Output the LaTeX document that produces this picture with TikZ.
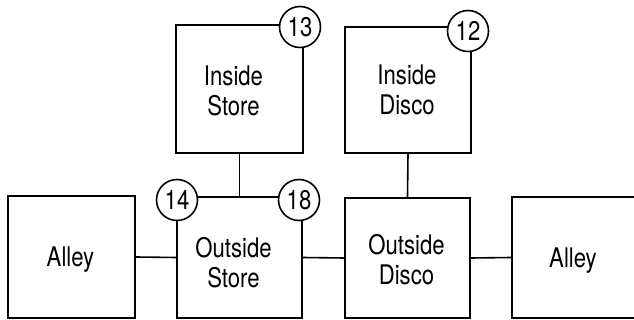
\documentclass[tikz,border=0pt]{standalone}
\usepackage{fontspec}
\newfontfamily\hv{TeX Gyre Heros}[FakeStretch=0.82]
\begin{document}
\begin{tikzpicture}[x=1pt,y=-1pt,
  room/.style={draw,line width=1.6pt,rectangle,inner sep=0pt},
  lbl/.style={font=\hv\fontsize{27}{30}\selectfont,align=center,inner sep=0pt},
  num/.style={draw,line width=1.6pt,circle,fill=white,minimum size=41pt,inner sep=0pt,font=\hv\fontsize{27}{30}\selectfont},
  link/.style={line width=1.6pt}]
\useasboundingbox (0,0) rectangle (634,320);
\node[room,minimum width=127pt,minimum height=128pt] (is) at (239.5,89) {};
\node[room,minimum width=126pt,minimum height=126pt] (id) at (408,90) {};
\node[room,minimum width=127pt,minimum height=122pt] (al) at (71.5,257) {};
\node[room,minimum width=125pt,minimum height=121pt] (os) at (239.5,257.5) {};
\node[room,minimum width=125pt,minimum height=120pt] (od) at (407.5,258) {};
\node[room,minimum width=124pt,minimum height=121pt] (ar) at (574,257.5) {};
\draw[link] (is.south) -- (os.north);
\draw[link] (id.south) -- (od.north);
\draw[link] (al.east) -- (os.west);
\draw[link] (os.east) -- (od.west);
\draw[link] (od.east) -- (ar.west);
\node[lbl] (tis) at ([xshift=-6pt,yshift=-2pt]is.center) {Inside\\Store};
\node[lbl] (tid) at ([xshift=-1pt]id.center) {Inside\\Disco};
\node[lbl] (tal) at ([xshift=-1pt,yshift=-3pt]al.center) {Alley};
\node[lbl] (tos) at ([xshift=-6pt,yshift=-5pt]os.center) {Outside\\Store};
\node[lbl] (tod) at ([xshift=-1pt,yshift=-2pt]od.center) {Outside\\Disco};
\node[lbl] (tar) at ([xshift=-1pt,yshift=-3pt]ar.center) {Alley};
\node[num] (c13) at (300,27) {13};
\node[num] (c12) at (468,31) {12};
\node[num] (c14) at (177,200) {14};
\node[num] (c18) at (299,200) {18};
\end{tikzpicture}
\end{document}
